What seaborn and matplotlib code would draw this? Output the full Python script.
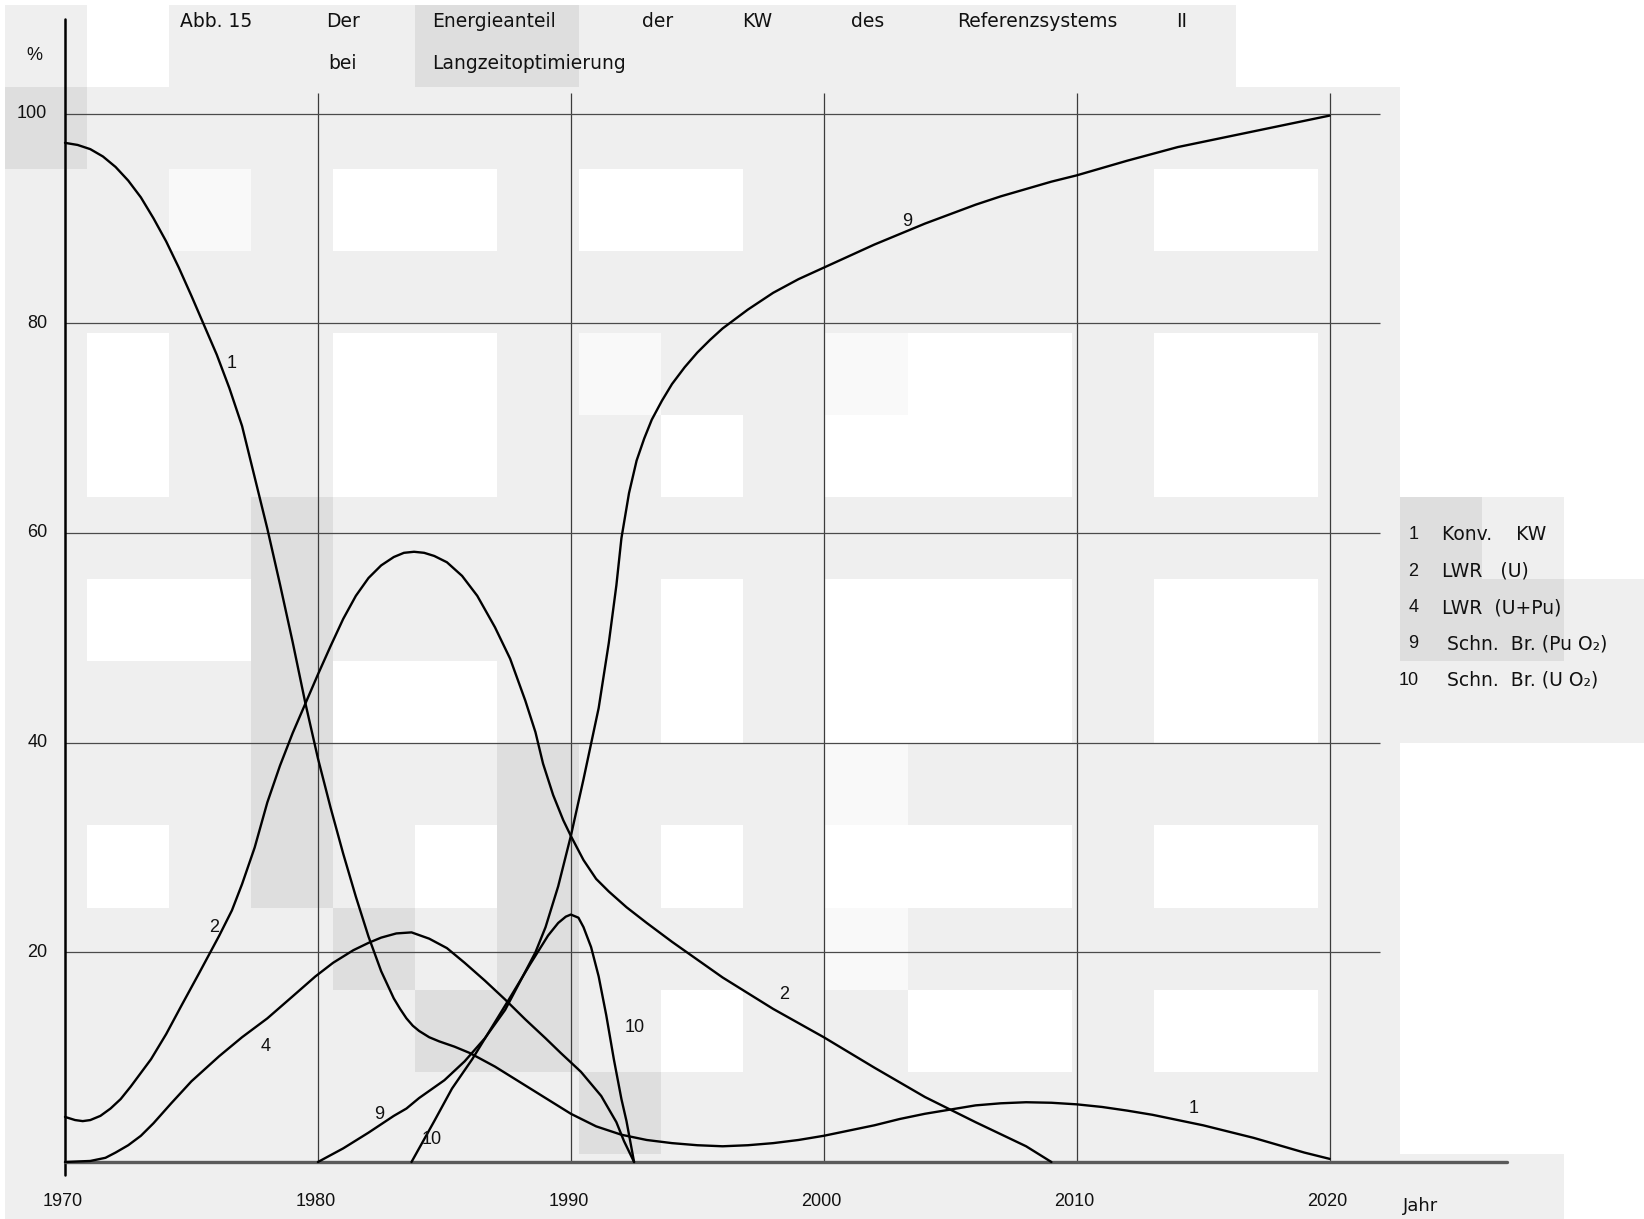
import numpy as np
import pandas as pd
import matplotlib
matplotlib.use("Agg")
import matplotlib.pyplot as plt
import seaborn as sns

# ---------------------------------------------------------------------------
# Energieanteil der Kraftwerkstypen (% der Erzeugung), Referenzsystem II
# ---------------------------------------------------------------------------
konv_year = [1970.0, 1970.5, 1971.0, 1971.5, 1972.0, 1972.5, 1973.0, 1973.5,
             1974.0, 1974.5, 1975.0, 1975.5, 1976.0, 1976.5, 1977.0, 1977.5,
             1978.0, 1978.5, 1979.0, 1979.5, 1980.0, 1980.5, 1981.0, 1981.5,
             1982.0, 1982.5, 1983.0, 1983.25, 1983.5, 1983.75, 1984.0, 1984.4,
             1984.8, 1985.4, 1986.0, 1987.0, 1988.0, 1989.0, 1990.0, 1991.0,
             1992.0, 1993.0, 1994.0, 1995.0, 1996.0, 1997.0, 1998.0, 1999.0,
             2000.0, 2001.0, 2002.0, 2003.0, 2004.0, 2005.0, 2006.0, 2007.0,
             2008.0, 2009.0, 2010.0, 2011.0, 2012.0, 2013.0, 2014.0, 2015.0,
             2016.0, 2017.0, 2018.0, 2019.0, 2020.0]
konv_share = [97.2, 97.0, 96.6, 95.9, 94.9, 93.6, 92.0, 90.0,
              87.8, 85.3, 82.6, 79.8, 77.0, 73.8, 70.2, 65.3,
              60.4, 55.1, 49.6, 43.8, 38.5, 33.8, 29.4, 25.3,
              21.5, 18.2, 15.6, 14.6, 13.7, 13.0, 12.5, 11.9,
              11.5, 11.0, 10.4, 9.1, 7.6, 6.1, 4.6, 3.4,
              2.6, 2.1, 1.8, 1.6, 1.5, 1.6, 1.8, 2.1,
              2.5, 3.0, 3.5, 4.1, 4.6, 5.0, 5.4, 5.6,
              5.7, 5.65, 5.5, 5.25, 4.9, 4.5, 4.0, 3.5,
              2.9, 2.3, 1.6, 0.9, 0.3]

lwr_u_year = [1970.0, 1970.4, 1970.7, 1971.0, 1971.4, 1971.8, 1972.2, 1972.6,
              1973.0, 1973.4, 1974.0, 1974.6, 1975.3, 1976.1, 1976.6, 1977.0,
              1977.5, 1978.0, 1978.5, 1979.0, 1979.5, 1980.0, 1980.5, 1981.0,
              1981.5, 1982.0, 1982.5, 1983.0, 1983.4, 1983.8, 1984.2, 1984.6,
              1985.1, 1985.7, 1986.3, 1987.0, 1987.6, 1988.2, 1988.6, 1988.9,
              1989.3, 1989.7, 1990.0, 1990.5, 1991.0, 1991.5, 1992.2, 1993.0,
              1994.0, 1996.0, 1998.0, 2000.0, 2002.0, 2004.0, 2006.0, 2008.0,
              2009.0]
lwr_u_share = [4.3, 4.0, 3.9, 4.0, 4.4, 5.1, 6.0, 7.2,
               8.5, 9.8, 12.2, 14.9, 18.0, 21.6, 24.0, 26.5,
               30.0, 34.3, 37.8, 40.9, 43.7, 46.5, 49.2, 51.8,
               54.0, 55.7, 56.9, 57.7, 58.1, 58.2, 58.1, 57.8,
               57.2, 55.9, 54.0, 51.0, 48.0, 44.0, 41.0, 38.0,
               35.0, 32.6, 31.1, 28.8, 27.0, 25.8, 24.3, 22.8,
               21.0, 17.6, 14.6, 11.9, 9.0, 6.2, 3.8, 1.5,
               0.0]

lwr_upu_year = [1970.0, 1971.0, 1971.6, 1972.0, 1972.5, 1973.0, 1973.5, 1974.2,
                1975.0, 1976.1, 1977.0, 1978.0, 1979.0, 1979.9, 1980.6, 1981.4,
                1982.0, 1982.5, 1983.1, 1983.7, 1984.4, 1985.1, 1985.8, 1986.6,
                1987.4, 1988.2, 1989.0, 1989.6, 1990.4, 1991.2, 1991.8, 1992.1,
                1992.5]
lwr_upu_share = [0.0, 0.1, 0.4, 0.9, 1.6, 2.5, 3.7, 5.6,
                 7.7, 10.1, 11.9, 13.7, 15.8, 17.7, 19.0, 20.2,
                 20.9, 21.4, 21.8, 21.9, 21.3, 20.4, 19.0, 17.3,
                 15.5, 13.6, 11.8, 10.4, 8.6, 6.3, 3.8, 2.0,
                 0.0]

sb_puo2_year = [1980.0, 1981.0, 1982.0, 1983.0, 1983.5, 1984.0, 1985.0, 1985.8,
                1986.6, 1987.4, 1988.1, 1988.6, 1989.0, 1989.5, 1990.0, 1990.5,
                1991.1, 1991.5, 1991.8, 1992.0, 1992.3, 1992.6, 1992.9, 1993.2,
                1993.6, 1994.0, 1994.5, 1995.0, 1995.5, 1996.0, 1997.0, 1998.0,
                1999.0, 2000.0, 2001.0, 2002.0, 2003.0, 2004.0, 2005.0, 2006.0,
                2007.0, 2008.0, 2009.0, 2010.0, 2012.0, 2014.0, 2016.0, 2018.0,
                2020.0]
sb_puo2_share = [0.0, 1.3, 2.8, 4.4, 5.1, 6.1, 7.8, 9.6,
                 11.8, 14.5, 17.7, 20.0, 22.4, 26.3, 31.1, 36.5,
                 43.3, 49.5, 55.0, 59.5, 63.8, 66.9, 69.0, 70.8,
                 72.6, 74.2, 75.8, 77.2, 78.4, 79.5, 81.3, 82.9,
                 84.2, 85.3, 86.4, 87.5, 88.5, 89.5, 90.4, 91.3,
                 92.1, 92.8, 93.5, 94.1, 95.5, 96.8, 97.8, 98.8,
                 99.8]

sb_uo2_year = [1983.7, 1984.6, 1985.3, 1986.1, 1987.6, 1988.4, 1989.1, 1989.5,
               1989.8, 1990.0, 1990.3, 1990.5, 1990.8, 1991.1, 1991.4, 1991.7,
               1992.0, 1992.2, 1992.5]
sb_uo2_share = [0.0, 3.9, 7.0, 9.8, 15.7, 18.9, 21.6, 22.8,
                23.4, 23.6, 23.3, 22.4, 20.5, 17.7, 14.0, 9.8,
                6.0, 3.9, 0.0]

curve_ids = ["1", "2", "4", "9", "10"]
legend_names = ["Konv.    KW", "LWR   (U)", "LWR  (U+Pu)",
                "Schn.  Br. (Pu O\u2082)", "Schn.  Br. (U O\u2082)"]

# numbers written onto the curves
curve_label_text = ["1", "1", "2", "2", "4", "9", "9", "10", "10"]
curve_label_year = [1976.6, 2014.61, 1975.89, 1998.44, 1977.92, 1982.44,
                    2003.29, 1984.51, 1992.51]
curve_label_pct = [76.2, 5.1, 22.4, 16.0, 11.0, 4.5, 89.7, 2.1, 12.8]

x_tick_years = [1970, 1980, 1990, 2000, 2010, 2020]
y_tick_pct = [20, 40, 60, 80, 100]

title_line1 = ["Abb. 15", "Der", "Energieanteil", "der", "KW", "des",
               "Referenzsystems", "II"]
title_line2 = ["bei", "Langzeitoptimierung"]

# paper tone of the scanned sheet, one character per block
paper_tone = [
    "gwgggddggggggggwwwww",
    "dggggggggggggggggwww",
    "gglgwwgwwgggggwwgwww",
    "gggggggggggggggggwww",
    "gwggwwglgglwwgwwgwww",
    "gwggwwggwgwwwgwwgwww",
    "gggdgggggggggggggdgw",
    "gwwdggggwgwwwgwwgddg",
    "gggdwwggwgwwwgwwgggg",
    "gggdggdggglggggggwww",
    "gwgdgwdgwgwwwgwwgwww",
    "ggggdgdggglggggggwww",
    "gggggddgwggwwgwwgwww",
    "gggggggdgggggggggwww",
    "gggggggggggggggggggw",
]
tone_levels = {"w": 255, "l": 249, "g": 239, "d": 222}

# ---------------------------------------------------------------------------
sns.set_theme(style="white")
plt.rcParams["font.family"] = ["Liberation Sans", "DejaVu Sans"]
WORD_FONT = ["DejaVu Sans"]

W, H, DPI = 1644, 1219, 100
fig = plt.figure(figsize=(W / DPI, H / DPI), dpi=DPI, facecolor="white")

# background sheet
bg = fig.add_axes([0, 0, 1, 1], zorder=0)
tone = np.array([[tone_levels[c] for c in row] for row in paper_tone], float)
blk, off = 82.05, 5.2
bg.imshow(tone, cmap="gray", vmin=0, vmax=255, interpolation="nearest",
          extent=(off, off + tone.shape[1] * blk, off + tone.shape[0] * blk, off),
          aspect="auto")
bg.set_xlim(0, W)
bg.set_ylim(H, 0)
bg.axis("off")

# chart axes
ax = fig.add_axes([0, 0, 1, 1], zorder=1)
ax.patch.set_alpha(0)

# grid and axis lines
ax.vlines(x_tick_years[1:], 0, 102, color="#3c3c3c", lw=0.9, zorder=1)
ax.hlines(y_tick_pct, 1970, 2022, color="#4a4a4a", lw=0.9, zorder=1)
ax.plot([1970, 1970], [-1.2, 109], color="black", lw=1.8, zorder=2)
ax.plot([1970, 2027], [0, 0], color="#5a5a5a", lw=2.4, zorder=2)

# curves
frames = []
for cid, yrs, vals in zip(curve_ids,
                          [konv_year, lwr_u_year, lwr_upu_year, sb_puo2_year, sb_uo2_year],
                          [konv_share, lwr_u_share, lwr_upu_share, sb_puo2_share, sb_uo2_share]):
    frames.append(pd.DataFrame({"Jahr": yrs, "Anteil": vals, "Kurve": cid}))
df = pd.concat(frames, ignore_index=True)
sns.lineplot(data=df, x="Jahr", y="Anteil", units="Kurve", estimator=None,
             sort=False, color="black", lw=1.7, ax=ax, zorder=3)
ax.set_xlim(1967.43, 2032.43)
ax.set_ylim(-5.436, 110.825)
ax.axis("off")

fs = 13
for t, x, y in zip(curve_label_text, curve_label_year, curve_label_pct):
    ax.text(x, y, t, fontsize=fs, ha="center", va="center", color="#111")

# tick labels
for v in y_tick_pct:
    ax.text(1969.3, v, str(v), fontsize=fs, ha="right", va="center", color="#111")
for yr in x_tick_years:
    ax.text(yr - 0.1, -3.8, str(yr), fontsize=fs, ha="center", va="center", color="#111")
ax.text(2022.9, -4.2, "Jahr", fontsize=fs, ha="left", va="center", color="#111",
        family=WORD_FONT)
ax.text(1968.8, 105.5, "%", fontsize=fs, ha="center", va="center", color="#111")

# heading
wfs = 13.5
line1_x = [0.1097, 0.1983, 0.2628, 0.3903, 0.4515, 0.5179, 0.5823, 0.7156]
line2_x = [0.1996, 0.2628]
for w, x in zip(title_line1, line1_x):
    fig.text(x, 0.982, w, fontsize=wfs, ha="left", va="center", color="#111",
             family=WORD_FONT, zorder=5)
for w, x in zip(title_line2, line2_x):
    fig.text(x, 0.948, w, fontsize=wfs, ha="left", va="center", color="#111",
             family=WORD_FONT, zorder=5)

# key
key_y = [0.5615, 0.5314, 0.5013, 0.4721, 0.4420]
key_text_x = [0.8769, 0.8769, 0.8769, 0.8801, 0.8801]
for cid, name, y, tx in zip(curve_ids, legend_names, key_y, key_text_x):
    fig.text(0.8629, y, cid, fontsize=fs, ha="right", va="center", color="#111", zorder=5)
    fig.text(tx, y, name, fontsize=wfs, ha="left", va="center", color="#111",
             family=WORD_FONT, zorder=5)

fig.savefig("out.png", dpi=DPI, facecolor="white")
